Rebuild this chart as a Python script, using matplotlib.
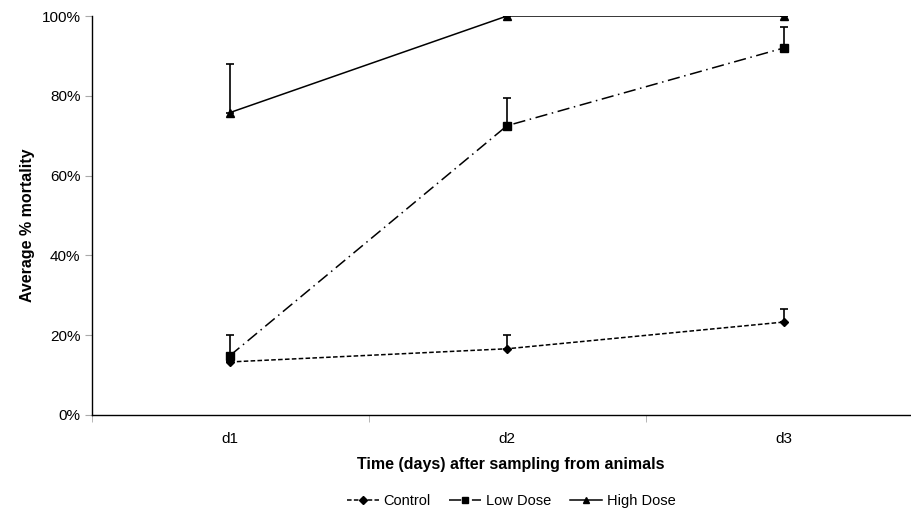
import matplotlib
matplotlib.use("Agg")
import matplotlib.pyplot as plt
from matplotlib.lines import Line2D
from matplotlib.ticker import PercentFormatter

plt.rcParams['font.family'] = ['Liberation Sans', 'DejaVu Sans']

days = ["d1", "d2", "d3"]
control = [13.3, 16.6, 23.3]
control_err = [0.0, 3.4, 3.3]
low_dose = [14.9, 72.5, 92.0]
low_dose_err = [5.2, 7.0, 5.2]
high_dose = [75.8, 100.0, 100.0]
high_dose_err = [12.2, 0.0, 0.0]

fig = plt.figure(figsize=(9.12, 5.12), dpi=100)
W, H = 912, 512
left, right, top, bottom = 91.5, 922.5, 16, 415
ax = fig.add_axes([left / W, (H - bottom) / H, (right - left) / W, (bottom - top) / H])

x = list(range(len(days)))
styles = [
    ("Control", control, control_err, (0, (3, 1.5)), "D", 4.5),
    ("Low Dose", low_dose, low_dose_err, (0, (8, 3, 1, 3)), "s", 6),
    ("High Dose", high_dose, high_dose_err, "-", "^", 6),
]
handles = []
for name, vals, err, ls, mk, ms in styles:
    ax.errorbar(x, vals, yerr=[[0] * len(vals), err], color="black", ecolor="black",
                elinewidth=1.2, capsize=3, capthick=1.2, linestyle=ls, linewidth=1.1,
                marker=mk, markersize=ms)
    handles.append(Line2D([], [], color="black", linestyle=ls, linewidth=1.1,
                          marker=mk, markersize=ms * 0.8, label=name))

ax.set_xlim(-0.5, 2.5)
ax.set_ylim(0, 100)
ax.set_yticks([0, 20, 40, 60, 80, 100])
ax.yaxis.set_major_formatter(PercentFormatter(decimals=0))
ax.set_xticks(x)
ax.set_xticklabels(days)
ax.set_xticks([-0.5, 0.5, 1.5], minor=True)
ax.tick_params(axis="x", which="major", length=0, pad=12, labelsize=11)
ax.tick_params(axis="x", which="minor", length=5, color="#aaaaaa", direction="out")
ax.tick_params(axis="y", length=5, color="#aaaaaa", direction="out", labelsize=11, pad=3)

for s in ["top", "right"]:
    ax.spines[s].set_visible(False)
for s in ["left", "bottom"]:
    ax.spines[s].set_color("black")
    ax.spines[s].set_linewidth(1.0)

fig.text(28 / W, (H - 225) / H, "Average % mortality", rotation=90, ha="center", va="center",
         fontsize=11.5, fontweight="bold")
fig.text(511 / W, (H - 464) / H, "Time (days) after sampling from animals", ha="center",
         va="center", fontsize=11.5, fontweight="bold")

fig.legend(handles=handles, loc="center", bbox_to_anchor=(511 / W, (H - 501) / H), ncol=3,
           frameon=False, fontsize=10.5, handlelength=2.2, columnspacing=1.3, handletextpad=0.3)

fig.savefig("out.png", dpi=100)
